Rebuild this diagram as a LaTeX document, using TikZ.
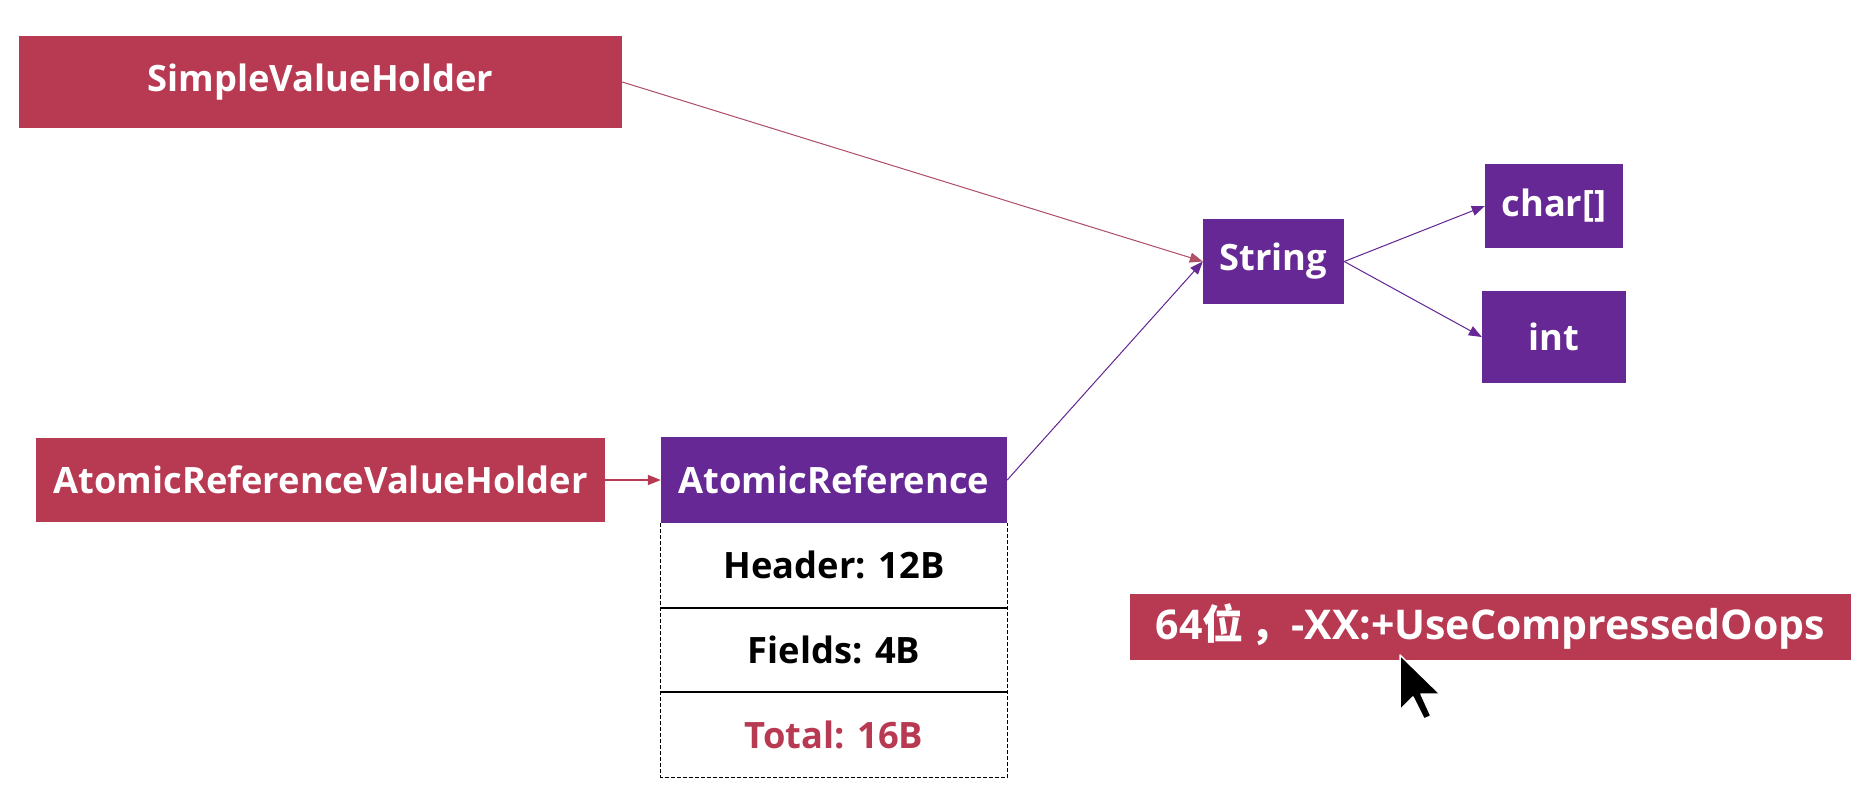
\documentclass[tikz,border=0pt]{standalone}
\usepackage{fontspec}
\setmainfont{Open Sans}
\newfontfamily\cjk{Noto Sans CJK SC}
\usetikzlibrary{arrows.meta}
\definecolor{hred}{RGB}{184,57,82}
\definecolor{hpurple}{RGB}{102,40,148}
\definecolor{lred}{RGB}{176,80,105}
\begin{document}
\begin{tikzpicture}[x=1pt,y=-1pt,
  box/.style={rectangle, inner sep=0pt, text=white, font=\bfseries\fontsize{36.3}{40}\selectfont},
  redbox/.style={box, fill=hred},
  purplebox/.style={box, fill=hpurple},
  rowbox/.style={rectangle, inner sep=0pt, minimum width=346pt, minimum height=85pt, font=\bfseries\fontsize{36.3}{40}\selectfont},
  conn/.style={line width=1pt, -{Triangle[length=13pt,width=10pt]}},
]
\useasboundingbox[fill=white] (0,0) rectangle (1858,792);

\node[redbox, minimum width=603pt, minimum height=92pt] (svh) at (320.5,82) {SimpleValueHolder};
\node[redbox, minimum width=569pt, minimum height=84pt] (arvh) at (320.5,480) {AtomicReferenceValueHolder};
\node[purplebox, minimum width=346pt, minimum height=86pt] (ar) at (834,480) {AtomicReference};
\node[rowbox] (hdr) at (834,565) {Header: 12B};
\node[rowbox] (fld) at (834,649.5) {Fields: 4B};
\node[rowbox, text=hred] (tot) at (834,734.5) {Total: 16B};
\node[purplebox, minimum width=141pt, minimum height=85pt] (str) at (1273.5,261.5) {String};
\node[purplebox, minimum width=138pt, minimum height=84pt] (chr) at (1554,206) {char[]};
\node[purplebox, minimum width=144pt, minimum height=92pt] (int) at (1554,337) {int};
\node[redbox, minimum width=721pt, minimum height=66pt, font=\bfseries\fontsize{41}{44}\selectfont] (opt) at (1490.5,627) {64{\cjk\bfseries 位\,，}-XX:+UseCompressedOops};

% table borders
\draw[black, line width=1.3pt, dashed, dash pattern=on 4pt off 2pt] (ar.south west) -- (tot.south west) -- (tot.south east) -- (ar.south east);
\draw[black, line width=1.8pt] (hdr.south west) -- (hdr.south east);
\draw[black, line width=1.8pt] (fld.south west) -- (fld.south east);

% connectors
\draw[conn, draw=lred, fill=hred] (svh.east) -- (str.west);
\draw[conn, draw=hpurple, fill=hpurple] (ar.east) -- (str.west);
\draw[conn, draw=hpurple, fill=hpurple] (str.east) -- (chr.west);
\draw[conn, draw=hpurple, fill=hpurple] (str.east) -- (int.west);
\draw[conn, draw=hred, fill=hred, line width=1.5pt] (arvh.east) -- (ar.west);

% mouse cursor
\filldraw[fill=black, draw=white, line width=1.5pt, line join=round]
  (1400,655) -- (1400,710) -- (1413,697) -- (1424,719) -- (1431,716) -- (1421,694) -- (1440,694) -- cycle;
\end{tikzpicture}
\end{document}
